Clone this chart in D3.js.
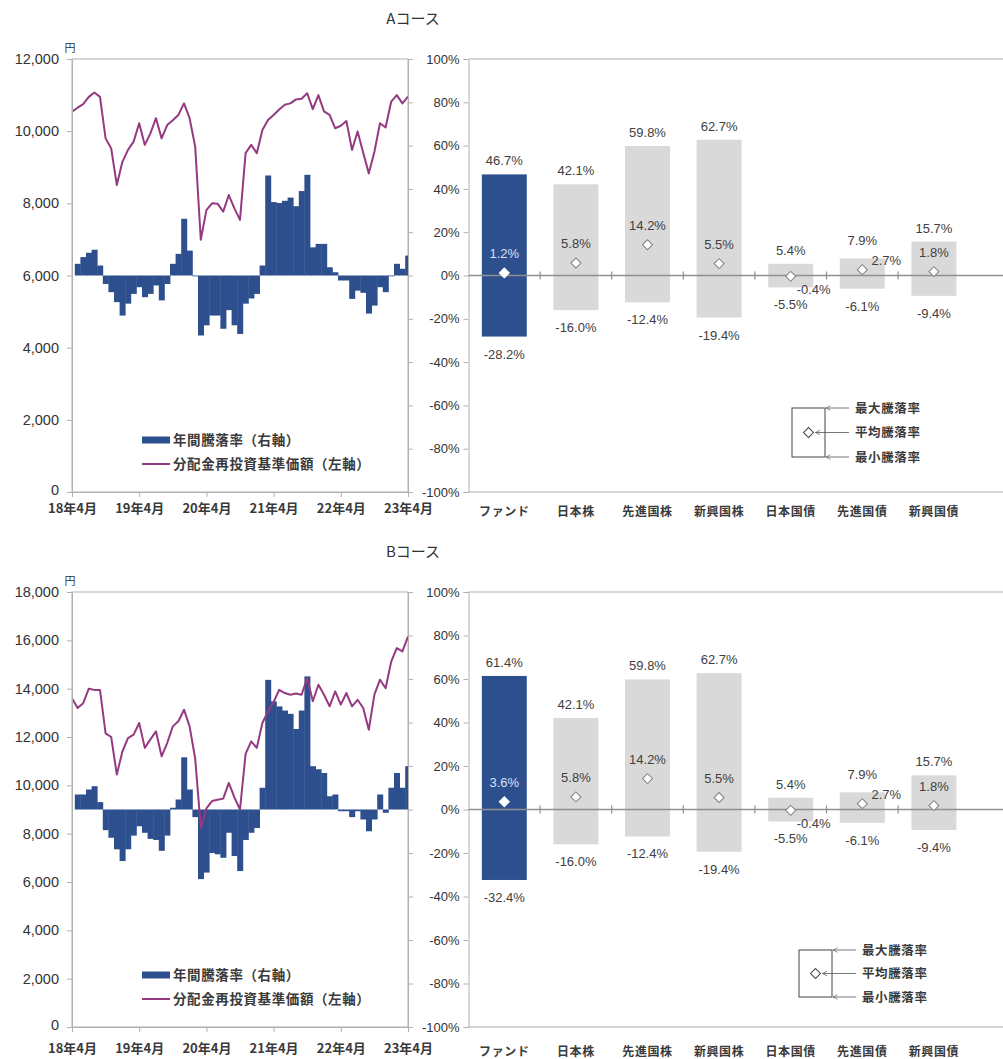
<!DOCTYPE html>
<html>
<head>
<meta charset="utf-8">
<script src="https://cdn.jsdelivr.net/npm/d3@7"></script>
<style>
  body { margin: 0; background: #fff; }
  svg text { font-family: "Liberation Sans", Arial, sans-serif; }
  svg text.jp { font-family: "Noto Sans CJK JP", "Noto Sans", sans-serif; }
</style>
</head>
<body>
<svg id="chart" width="1003" height="1059"></svg>
<script>
// ---- data ----
const monthTicks = ['18年4月', '19年4月', '20年4月', '21年4月', '22年4月', '23年4月'];

// 分配金再投資基準価額 (円), monthly 2018/4 - 2023/4
const navA = [10540, 10650, 10750, 10950, 11070, 10950, 9800, 9520, 8510, 9150,
    9480, 9710, 10220, 9620, 9940, 10360, 9800, 10170, 10300, 10450,
    10770, 10360, 9570, 6990, 7810, 8000, 7990, 7770, 8230, 7860,
    7540, 9390, 9620, 9390, 10030, 10310, 10450, 10600, 10730, 10770,
    10880, 10900, 11050, 10610, 11000, 10550, 10450, 10080, 10150, 10280,
    9480, 9990, 9400, 8830, 9430, 10220, 10100, 10820, 11000, 10770, 10960];

// 年間騰落率 (%)
const returnA = [null, 5.4, 8.5, 10.5, 11.9, 4.6, -3.9, -7.7, -12.3, -18.5,
    -13, -8.5, -5.4, -10, -8.5, -4.6, -11.5, -3.9, 5.4, 10,
    26.2, 11.5, -0.4, -27.7, -23, -18.5, -18.5, -24.6, -16, -23,
    -27, -13, -10.6, -8.5, 4.6, 46.2, 33.9, 33.5, 34.5, 36,
    32, 39, 46.5, 13, 14.6, 14.6, 3.8, 1.5, -2.3, -2.3,
    -10.8, -7, -8, -17.6, -13.9, -5.4, -7.7, -0.3, 5.4, 3.1, 9.2];

const navB = [13600, 13200, 13400, 14000, 13950, 13950, 12150, 12000, 10450, 11400,
    11950, 12100, 12580, 11550, 11900, 12230, 11200, 11750, 12440, 12650,
    13130, 12440, 11100, 8250, 9050, 9350, 9400, 9450, 10100, 9500,
    9000, 11300, 11820, 11550, 12580, 13060, 13450, 13950, 13820, 13750,
    13800, 13750, 14450, 13480, 14160, 13750, 13270, 13890, 13340, 13820,
    13270, 13540, 13200, 12300, 13750, 14370, 14020, 15120, 15680, 15540, 16150];

const returnB = [null, 6.9, 6.9, 9.2, 10.7, 3.4, -9.5, -13, -18.3, -23.7,
    -18.3, -12, -7.7, -10.7, -13.5, -14, -19, -12, 0.8, 4.6,
    24, 9.2, -3.5, -32, -29, -20, -20.6, -22.2, -10.7, -21.4,
    -28.3, -14, -10.7, -8.5, 10, 59.6, 49.7, 47.4, 45.5, 44,
    37, 45.5, 61.2, 19.9, 18.5, 16.8, 6.1, 6.9, -0.8, -0.8,
    -3.5, -0.8, -4.6, -10, -4.6, 6.9, -1.5, 10, 16.8, 10, 19.9];

const navTicksA = [0, 2000, 4000, 6000, 8000, 10000, 12000];
const navTicksB = [0, 2000, 4000, 6000, 8000, 10000, 12000, 14000, 16000, 18000];
const pctTicks = [-100, -80, -60, -40, -20, 0, 20, 40, 60, 80, 100];

const assetClasses = ['ファンド', '日本株', '先進国株', '新興国株', '日本国債', '先進国債', '新興国債'];
const maxA = [46.7, 42.1, 59.8, 62.7, 5.4, 7.9, 15.7];
const avgA = [1.2, 5.8, 14.2, 5.5, -0.4, 2.7, 1.8];
const minA = [-28.2, -16.0, -12.4, -19.4, -5.5, -6.1, -9.4];
const maxB = [61.4, 42.1, 59.8, 62.7, 5.4, 7.9, 15.7];
const avgB = [3.6, 5.8, 14.2, 5.5, -0.4, 2.7, 1.8];
const minB = [-32.4, -16.0, -12.4, -19.4, -5.5, -6.1, -9.4];

const lineLegend = ['年間騰落率（右軸）', '分配金再投資基準価額（左軸）'];
const rangeLegend = ['最大騰落率', '平均騰落率', '最小騰落率'];

// ---- styles / layout ----
const BLUE = '#2d4f8e';
const PLUM = '#953a80';
const GRAY_BAR = '#d9d9d9';
const AXIS = '#b0b0b0';
const INK = '#333';
const fmtPct = d => d.toFixed(1) + '%';

// mean labels that sit beside the marker instead of above it
const avgLabelShift = { '日本国債': [23, 13], '先進国債': [24, -9] };

const svg = d3.select('#chart');

const defs = svg.append('defs');
defs.append('marker')
    .attr('id', 'arrow')
    .attr('viewBox', '0 0 10 10')
    .attr('refX', 1).attr('refY', 5)
    .attr('markerWidth', 7).attr('markerHeight', 7)
    .attr('orient', 'auto')
    .append('path')
    .attr('d', 'M9,1 L1,5 L9,9')
    .attr('fill', 'none')
    .attr('stroke', '#555')
    .attr('stroke-width', 1.2);

const courses = [
    { id: 'a', title: 'Aコース', titleY: 24, top: 59, bottom: 492, navMax: 12000, navTicks: navTicksA, labelPad: 7,
      nav: navA, ret: returnA, max: maxA, avg: avgA, min: minA, boxX: 792, boxTop: 408, boxH: 49 },
    { id: 'b', title: 'Bコース', titleY: 557, top: 592, bottom: 1027, navMax: 18000, navTicks: navTicksB, labelPad: 12,
      nav: navB, ret: returnB, max: maxB, avg: avgB, min: minB, boxX: 799, boxTop: 950, boxH: 47 }
];

courses.forEach(drawCourse);

function styleAxis(g, size) {
    g.select('.domain').attr('stroke', AXIS);
    g.selectAll('.tick line').attr('stroke', AXIS);
    g.selectAll('.tick text').attr('font-size', size).style('fill', INK);
}

function drawCourse(c) {
    const g = svg.append('g');
    const left = 72, right = 408;
    const panelLeft = 468.5, panelRight = 1015;

    // 1. Title
    g.append('text')
        .attr('class', 'jp')
        .attr('x', 413).attr('y', c.titleY)
        .attr('text-anchor', 'middle')
        .attr('font-size', 15)
        .style('fill', INK)
        .text(c.title);

    // 2. Scales
    const x = d3.scaleLinear().domain([0, c.nav.length - 1]).range([left, right]);
    const yNav = d3.scaleLinear().domain([0, c.navMax]).range([c.bottom, c.top]);
    const yPct = d3.scaleLinear().domain([-100, 100]).range([c.bottom, c.top]);

    // ---- left panel: NAV line + rolling 1y return bars ----
    g.append('rect')
        .attr('x', left).attr('y', c.top)
        .attr('width', right - left).attr('height', c.bottom - c.top)
        .attr('fill', 'none').attr('stroke', AXIS);

    defs.append('clipPath').attr('id', 'clip-' + c.id)
        .append('rect')
        .attr('x', left).attr('y', c.top)
        .attr('width', right - left).attr('height', c.bottom - c.top);

    const plot = g.append('g').attr('clip-path', `url(#clip-${c.id})`);
    const step = x(1) - x(0);

    plot.selectAll('rect.ret')
        .data(c.ret.map((v, i) => ({ i, v })).filter(d => d.v !== null))
        .join('rect')
        .attr('class', 'ret')
        .attr('x', d => x(d.i) - step / 2)
        .attr('width', step + 0.4)
        .attr('y', d => yPct(Math.max(0, d.v)))
        .attr('height', d => Math.max(0.8, Math.abs(yPct(d.v) - yPct(0))))
        .attr('fill', BLUE);

    plot.append('path')
        .datum(c.nav)
        .attr('fill', 'none')
        .attr('stroke', PLUM)
        .attr('stroke-width', 2)
        .attr('stroke-linejoin', 'round')
        .attr('d', d3.line().x((d, i) => x(i)).y(d => yNav(d)));

    // Axes
    g.append('g')
        .attr('transform', `translate(${left},0)`)
        .call(d3.axisLeft(yNav).tickValues(c.navTicks).tickSize(5).tickPadding(8).tickFormat(d3.format(',')))
        .call(a => styleAxis(a, 14.5))
        .call(a => a.selectAll('.tick text').filter(d => d === 0).attr('dy', '0.2em'));

    g.append('g')
        .attr('transform', `translate(${right},0)`)
        .call(d3.axisRight(yPct).tickValues(pctTicks).tickSize(5).tickFormat(''))
        .call(a => styleAxis(a, 13));

    g.append('g')
        .attr('transform', `translate(0,${c.bottom})`)
        .call(d3.axisBottom(x).tickValues(d3.range(0, c.nav.length, 12)).tickSize(5).tickPadding(c.labelPad)
            .tickFormat((d, i) => monthTicks[i]))
        .call(a => styleAxis(a, 13))
        .call(a => a.selectAll('.tick text').attr('class', 'jp').attr('font-weight', 'bold').style('fill', '#3a3a3a'));

    g.append('text')
        .attr('class', 'jp')
        .attr('x', 70).attr('y', c.top - 7)
        .attr('text-anchor', 'middle')
        .attr('font-size', 11)
        .style('fill', INK)
        .text('円');

    // Legend
    const lg = g.append('g').attr('transform', `translate(142,${c.bottom - 52})`);
    lg.append('rect').attr('x', 0).attr('y', -3.5).attr('width', 28).attr('height', 7).attr('fill', BLUE);
    lg.append('line').attr('x1', 0).attr('x2', 28).attr('y1', 24).attr('y2', 24)
        .attr('stroke', PLUM).attr('stroke-width', 2);
    lg.selectAll('text')
        .data(lineLegend)
        .join('text')
        .attr('class', 'jp')
        .attr('x', 31)
        .attr('y', (d, i) => i * 24 + 5)
        .attr('font-size', 13.5)
        .attr('font-weight', 'bold')
        .attr('letter-spacing', 0.6)
        .style('fill', '#3a3a3a')
        .text(d => d);

    // ---- right panel: max / mean / min ranges ----
    const band = d3.scaleBand()
        .domain(assetClasses)
        .range([panelLeft, panelLeft + 71.6 * assetClasses.length])
        .paddingInner(0.372)
        .paddingOuter(0.186);
    const gap = band.step() * band.paddingInner() / 2;
    const rows = assetClasses.map((name, i) => ({ name, i, max: c.max[i], avg: c.avg[i], min: c.min[i] }));
    const cx = d => band(d.name) + band.bandwidth() / 2;

    g.append('line')
        .attr('x1', panelLeft).attr('x2', panelRight)
        .attr('y1', c.top).attr('y2', c.top).attr('stroke', AXIS);
    g.append('line')
        .attr('x1', panelLeft).attr('x2', panelRight)
        .attr('y1', c.bottom).attr('y2', c.bottom).attr('stroke', AXIS);

    g.append('g')
        .attr('transform', `translate(${panelLeft},0)`)
        .call(d3.axisLeft(yPct).tickValues(pctTicks).tickSize(5).tickPadding(4).tickFormat(d => d + '%'))
        .call(a => styleAxis(a, 13));

    g.selectAll('rect.range')
        .data(rows)
        .join('rect')
        .attr('class', 'range')
        .attr('x', d => band(d.name))
        .attr('width', band.bandwidth())
        .attr('y', d => yPct(d.max))
        .attr('height', d => yPct(d.min) - yPct(d.max))
        .attr('fill', d => d.i === 0 ? BLUE : GRAY_BAR);

    // zero line with category separators
    g.append('line')
        .attr('x1', panelLeft).attr('x2', panelRight)
        .attr('y1', yPct(0)).attr('y2', yPct(0))
        .attr('stroke', '#8f8f8f').attr('stroke-width', 1.5);
    g.selectAll('line.sep')
        .data(assetClasses.slice(1))
        .join('line')
        .attr('class', 'sep')
        .attr('x1', d => band(d) - gap)
        .attr('x2', d => band(d) - gap)
        .attr('y1', yPct(0) - 4).attr('y2', yPct(0) + 4)
        .attr('stroke', '#8f8f8f').attr('stroke-width', 1.2);

    // mean markers
    g.selectAll('path.avg')
        .data(rows)
        .join('path')
        .attr('class', 'avg')
        .attr('d', d3.symbol(d3.symbolSquare, 50))
        .attr('transform', d => `translate(${cx(d)},${yPct(d.avg)}) rotate(45)`)
        .attr('fill', '#fff')
        .attr('stroke', d => d.i === 0 ? '#fff' : '#7f7f7f')
        .attr('stroke-width', 1);

    g.selectAll('text.max')
        .data(rows)
        .join('text')
        .attr('class', 'max')
        .attr('x', cx)
        .attr('y', d => yPct(d.max) - (d.name === '先進国債' ? 13 : 9))
        .attr('text-anchor', 'middle')
        .attr('font-size', 13)
        .style('fill', '#404040')
        .text(d => fmtPct(d.max));

    g.selectAll('text.min')
        .data(rows)
        .join('text')
        .attr('class', 'min')
        .attr('x', cx)
        .attr('y', d => yPct(d.min) + 22)
        .attr('text-anchor', 'middle')
        .attr('font-size', 13)
        .style('fill', '#404040')
        .text(d => fmtPct(d.min));

    g.selectAll('text.avgLabel')
        .data(rows)
        .join('text')
        .attr('class', 'avgLabel')
        .attr('x', d => cx(d) + (avgLabelShift[d.name] || [0, 0])[0])
        .attr('y', d => yPct(d.avg) + (avgLabelShift[d.name] || [0, -19])[1] + 4.5)
        .attr('text-anchor', 'middle')
        .attr('font-size', 13)
        .style('fill', d => d.i === 0 ? '#d6e2f5' : '#404040')
        .text(d => fmtPct(d.avg));

    g.selectAll('text.cat')
        .data(assetClasses)
        .join('text')
        .attr('class', 'cat jp')
        .attr('x', d => band(d) + band.bandwidth() / 2)
        .attr('y', c.bottom + 17 + c.labelPad)
        .attr('text-anchor', 'middle')
        .attr('font-size', 12)
        .attr('font-weight', 'bold')
        .attr('letter-spacing', 0.6)
        .style('fill', '#3a3a3a')
        .text(d => d);

    // range legend
    const boxW = 33;
    const rl = g.append('g').attr('transform', `translate(${c.boxX},${c.boxTop})`);
    rl.append('rect')
        .attr('width', boxW).attr('height', c.boxH)
        .attr('fill', 'none').attr('stroke', '#444').attr('stroke-width', 1);
    rl.append('path')
        .attr('d', d3.symbol(d3.symbolSquare, 50))
        .attr('transform', `translate(${boxW / 2},${c.boxH / 2}) rotate(45)`)
        .attr('fill', '#fff').attr('stroke', '#444');
    const rowY = i => i * c.boxH / 2;
    rl.selectAll('line.arrow')
        .data(rangeLegend)
        .join('line')
        .attr('class', 'arrow')
        .attr('x1', (d, i) => i === 1 ? boxW / 2 + 7 : boxW + 1)
        .attr('x2', boxW + 24)
        .attr('y1', (d, i) => rowY(i)).attr('y2', (d, i) => rowY(i))
        .attr('stroke', '#555').attr('stroke-width', 0.8)
        .attr('marker-start', 'url(#arrow)');
    rl.selectAll('text')
        .data(rangeLegend)
        .join('text')
        .attr('class', 'jp')
        .attr('x', boxW + 30)
        .attr('y', (d, i) => rowY(i) + 4.5)
        .attr('font-size', 12.5)
        .attr('font-weight', 'bold')
        .attr('letter-spacing', 0.6)
        .style('fill', '#3a3a3a')
        .text(d => d);
}
</script>
</body>
</html>
